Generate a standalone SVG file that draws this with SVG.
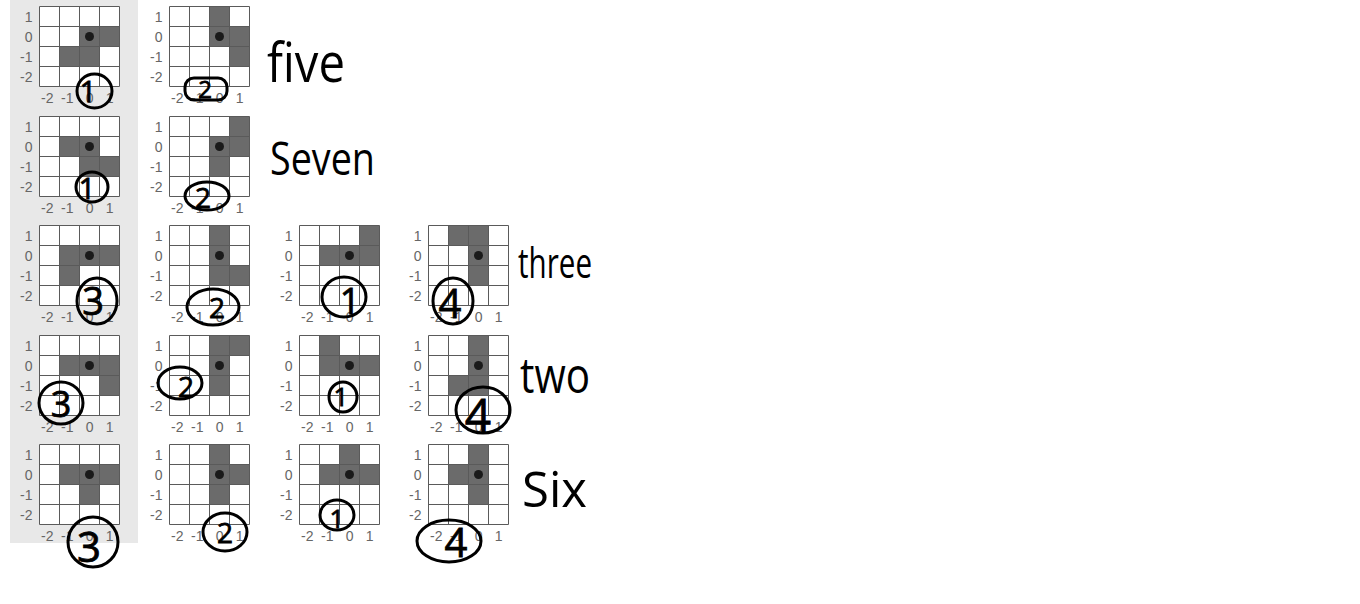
<svg xmlns="http://www.w3.org/2000/svg" xmlns:xlink="http://www.w3.org/1999/xlink" width="1360" height="604" viewBox="0 0 1360 604">
<style>
.ax{font-family:"Liberation Sans",Arial,sans-serif;font-size:14px;fill:#666666;text-anchor:end}
.gl{stroke:#5a5a5a;stroke-width:1;fill:none}
.sh{fill:#6b6b6b}
.bg{fill:#ffffff}
.dot{fill:#1a1a1a}
.hw{font-family:"Open Sans","DejaVu Sans",sans-serif;font-weight:400;fill:#000}
.cn{font-family:"Open Sans","DejaVu Sans",sans-serif;font-weight:400;fill:#000;stroke:#000;stroke-width:0.8;text-anchor:middle}
.ring{fill:none;stroke:#000;stroke-width:3}
</style>
<defs>
<g id="base">
<rect class="bg" x="0" y="0" width="80" height="80"/>
<text class="ax" x="-7" y="15">1</text>
<text class="ax" x="-7" y="35">0</text>
<text class="ax" x="-7" y="55">-1</text>
<text class="ax" x="-7" y="75">-2</text>
<text class="ax" x="14" y="96">-2</text>
<text class="ax" x="34" y="96">-1</text>
<text class="ax" x="54" y="96">0</text>
<text class="ax" x="74" y="96">1</text>
</g>
<g id="lines">
<path class="gl" d="M0 0H80V80H0Z M20 0V80 M40 0V80 M60 0V80 M0 20H80 M0 40H80 M0 60H80"/>
<circle class="dot" cx="50" cy="30" r="4.5"/>
</g>
</defs>
<rect x="10" y="0" width="128" height="543" fill="#e8e8e8"/>
<g id="connectors"/>

<g id="gridA1" transform="translate(39.5,6.5)"><use href="#base"/><rect class="sh" x="40" y="20" width="20" height="20"/><rect class="sh" x="60" y="20" width="20" height="20"/><rect class="sh" x="20" y="40" width="20" height="20"/><rect class="sh" x="40" y="40" width="20" height="20"/><use href="#lines"/></g>
<g id="gridA2" transform="translate(169.5,6.5)"><use href="#base"/><rect class="sh" x="40" y="0" width="20" height="20"/><rect class="sh" x="40" y="20" width="20" height="20"/><rect class="sh" x="60" y="20" width="20" height="20"/><rect class="sh" x="60" y="40" width="20" height="20"/><use href="#lines"/></g>

<g id="gridB1" transform="translate(39.5,116.5)"><use href="#base"/><rect class="sh" x="20" y="20" width="20" height="20"/><rect class="sh" x="40" y="20" width="20" height="20"/><rect class="sh" x="40" y="40" width="20" height="20"/><rect class="sh" x="60" y="40" width="20" height="20"/><use href="#lines"/></g>
<g id="gridB2" transform="translate(169.5,116.5)"><use href="#base"/><rect class="sh" x="60" y="0" width="20" height="20"/><rect class="sh" x="40" y="20" width="20" height="20"/><rect class="sh" x="60" y="20" width="20" height="20"/><rect class="sh" x="40" y="40" width="20" height="20"/><use href="#lines"/></g>

<g id="gridC1" transform="translate(39.5,225.5)"><use href="#base"/><rect class="sh" x="20" y="20" width="20" height="20"/><rect class="sh" x="40" y="20" width="20" height="20"/><rect class="sh" x="60" y="20" width="20" height="20"/><rect class="sh" x="20" y="40" width="20" height="20"/><use href="#lines"/></g>
<g id="gridC2" transform="translate(169.5,225.5)"><use href="#base"/><rect class="sh" x="40" y="0" width="20" height="20"/><rect class="sh" x="40" y="20" width="20" height="20"/><rect class="sh" x="40" y="40" width="20" height="20"/><rect class="sh" x="60" y="40" width="20" height="20"/><use href="#lines"/></g>
<g id="gridC3" transform="translate(299.5,225.5)"><use href="#base"/><rect class="sh" x="60" y="0" width="20" height="20"/><rect class="sh" x="20" y="20" width="20" height="20"/><rect class="sh" x="40" y="20" width="20" height="20"/><rect class="sh" x="60" y="20" width="20" height="20"/><use href="#lines"/></g>
<g id="gridC4" transform="translate(428.5,225.5)"><use href="#base"/><rect class="sh" x="20" y="0" width="20" height="20"/><rect class="sh" x="40" y="0" width="20" height="20"/><rect class="sh" x="40" y="20" width="20" height="20"/><rect class="sh" x="40" y="40" width="20" height="20"/><use href="#lines"/></g>

<g id="gridD1" transform="translate(39.5,335.5)"><use href="#base"/><rect class="sh" x="20" y="20" width="20" height="20"/><rect class="sh" x="40" y="20" width="20" height="20"/><rect class="sh" x="60" y="20" width="20" height="20"/><rect class="sh" x="60" y="40" width="20" height="20"/><use href="#lines"/></g>
<g id="gridD2" transform="translate(169.5,335.5)"><use href="#base"/><rect class="sh" x="40" y="0" width="20" height="20"/><rect class="sh" x="60" y="0" width="20" height="20"/><rect class="sh" x="40" y="20" width="20" height="20"/><rect class="sh" x="40" y="40" width="20" height="20"/><use href="#lines"/></g>
<g id="gridD3" transform="translate(299.5,335.5)"><use href="#base"/><rect class="sh" x="20" y="0" width="20" height="20"/><rect class="sh" x="20" y="20" width="20" height="20"/><rect class="sh" x="40" y="20" width="20" height="20"/><rect class="sh" x="60" y="20" width="20" height="20"/><use href="#lines"/></g>
<g id="gridD4" transform="translate(428.5,335.5)"><use href="#base"/><rect class="sh" x="40" y="0" width="20" height="20"/><rect class="sh" x="40" y="20" width="20" height="20"/><rect class="sh" x="20" y="40" width="20" height="20"/><rect class="sh" x="40" y="40" width="20" height="20"/><use href="#lines"/></g>

<g id="gridE1" transform="translate(39.5,444.5)"><use href="#base"/><rect class="sh" x="20" y="20" width="20" height="20"/><rect class="sh" x="40" y="20" width="20" height="20"/><rect class="sh" x="60" y="20" width="20" height="20"/><rect class="sh" x="40" y="40" width="20" height="20"/><use href="#lines"/></g>
<g id="gridE2" transform="translate(169.5,444.5)"><use href="#base"/><rect class="sh" x="40" y="0" width="20" height="20"/><rect class="sh" x="40" y="20" width="20" height="20"/><rect class="sh" x="60" y="20" width="20" height="20"/><rect class="sh" x="40" y="40" width="20" height="20"/><use href="#lines"/></g>
<g id="gridE3" transform="translate(299.5,444.5)"><use href="#base"/><rect class="sh" x="40" y="0" width="20" height="20"/><rect class="sh" x="20" y="20" width="20" height="20"/><rect class="sh" x="40" y="20" width="20" height="20"/><rect class="sh" x="60" y="20" width="20" height="20"/><use href="#lines"/></g>
<g id="gridE4" transform="translate(428.5,444.5)"><use href="#base"/><rect class="sh" x="40" y="0" width="20" height="20"/><rect class="sh" x="20" y="20" width="20" height="20"/><rect class="sh" x="40" y="20" width="20" height="20"/><rect class="sh" x="40" y="40" width="20" height="20"/><use href="#lines"/></g>

<g id="marksA">
<ellipse class="ring" cx="94.5" cy="91" rx="17.5" ry="17"/><text class="cn" x="88" y="102" font-size="30">1</text>
<rect class="ring" x="185" y="78" width="42" height="22" rx="9"/><text class="cn" x="205" y="98" font-size="24">2</text>
</g>
<g id="marksB">
<ellipse class="ring" cx="92" cy="187" rx="16" ry="15"/><text class="cn" x="87" y="199" font-size="30">1</text>
<ellipse class="ring" cx="207" cy="196" rx="22" ry="14"/><text class="cn" x="203" y="208" font-size="28">2</text>
</g>
<g id="marksC">
<ellipse class="ring" cx="97" cy="301" rx="20" ry="23"/><text class="cn" x="93" y="315" font-size="38">3</text>
<ellipse class="ring" cx="213" cy="307" rx="26" ry="18"/><text class="cn" x="217" y="318" font-size="28">2</text>
<ellipse class="ring" cx="344" cy="297" rx="22" ry="20"/><text class="cn" x="350" y="314" font-size="36">1</text>
<ellipse class="ring" cx="453" cy="301" rx="20" ry="23"/><text class="cn" x="450" y="318" font-size="40">4</text>
</g>
<g id="marksD">
<ellipse class="ring" cx="61" cy="403" rx="22" ry="21"/><text class="cn" x="61" y="417" font-size="36">3</text>
<ellipse class="ring" cx="180" cy="383" rx="22" ry="16"/><text class="cn" x="186" y="397" font-size="28">2</text>
<ellipse class="ring" cx="343" cy="397" rx="14" ry="15"/><text class="cn" x="341" y="406" font-size="26">1</text>
<ellipse class="ring" cx="483" cy="410" rx="27" ry="23"/><text class="cn" x="478" y="432" font-size="46">4</text>
</g>
<g id="marksE">
<ellipse class="ring" cx="93" cy="542" rx="25" ry="25"/><text class="cn" x="89" y="562" font-size="42">3</text>
<ellipse class="ring" cx="225" cy="532" rx="22" ry="19"/><text class="cn" x="225" y="543" font-size="28">2</text>
<ellipse class="ring" cx="337" cy="515" rx="17" ry="15"/><text class="cn" x="337" y="528" font-size="26">1</text>
<ellipse class="ring" cx="449" cy="541" rx="32" ry="21"/><text class="cn" x="456" y="557" font-size="40">4</text>
</g>

<g id="labels">
<text class="hw" x="267" y="82" font-size="54" textLength="78" lengthAdjust="spacingAndGlyphs">five</text>
<text class="hw" x="270" y="175" font-size="46" textLength="105" lengthAdjust="spacingAndGlyphs">Seven</text>
<text class="hw" x="518" y="278" font-size="42" textLength="74" lengthAdjust="spacingAndGlyphs">three</text>
<text class="hw" x="520" y="393" font-size="50" textLength="70" lengthAdjust="spacingAndGlyphs">two</text>
<text class="hw" x="522" y="507" font-size="50" textLength="65" lengthAdjust="spacingAndGlyphs">Six</text>
</g>
</svg>
